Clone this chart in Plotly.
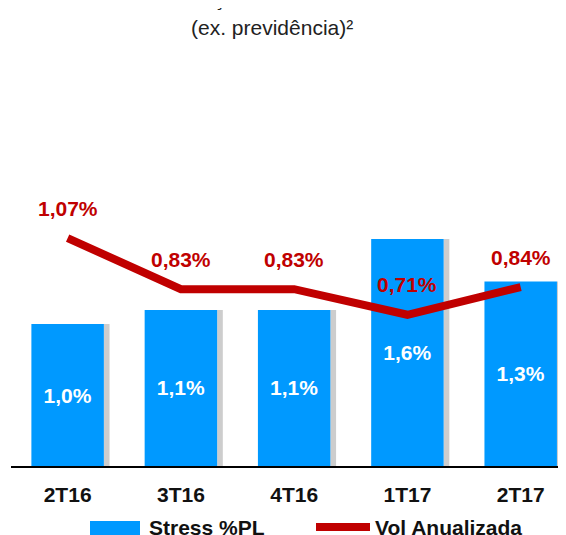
import plotly.graph_objects as go

# trimestres e valores
trimestres = ['2T16', '3T16', '4T16', '1T17', '2T17']
stress_pl = [1.0, 1.1, 1.1, 1.6, 1.3]
vol_anualizada = [1.07, 0.83, 0.83, 0.71, 0.84]

rotulos_stress = ['1,0%', '1,1%', '1,1%', '1,6%', '1,3%']
rotulos_vol = ['1,07%', '0,83%', '0,83%', '0,71%', '0,84%']

azul = '#0099FF'
vermelho = '#C00000'
fonte = 'Liberation Sans, Arial, sans-serif'


def py(s):
    # posicao vertical da tela -> coordenada paper
    return (466 - s) / 316


def px(s):
    return (s - 11) / 555


fig = go.Figure()

# sombra a direita das barras
fig.add_trace(go.Bar(x=trimestres, y=stress_pl, width=0.05, offset=0.32,
                     marker=dict(color='rgba(90,90,90,0.3)', line=dict(width=0)),
                     hoverinfo='skip', showlegend=False))

fig.add_trace(go.Bar(name='Stress %PL', x=trimestres, y=stress_pl, width=0.64, offset=-0.32,
                     marker=dict(color=azul, line=dict(width=0)),
                     text=rotulos_stress, textposition='inside', insidetextanchor='middle',
                     textangle=0, constraintext='none',
                     textfont=dict(color='white', size=21, family=fonte, weight='bold'),
                     showlegend=False))

fig.add_trace(go.Scatter(name='Vol Anualizada', x=trimestres, y=vol_anualizada, yaxis='y2',
                         mode='lines', line=dict(color=vermelho, width=8),
                         showlegend=False))

# rotulos da linha
for t, v, r in zip(trimestres, vol_anualizada, rotulos_vol):
    fig.add_annotation(x=t, y=v, xref='x', yref='y2', text=r, showarrow=False,
                       yshift=30, font=dict(color=vermelho, size=21, family=fonte, weight='bold'))

# titulo (primeira linha cortada no topo)
fig.add_annotation(x=px(272), y=py(12), xref='paper', yref='paper', yanchor='bottom',
                   text='Posição Consolidada', showarrow=False,
                   font=dict(color='#222222', size=21, family=fonte))
fig.add_annotation(x=px(272), y=py(28), xref='paper', yref='paper', yanchor='middle',
                   text='(ex. previdência)²', showarrow=False,
                   font=dict(color='#222222', size=21, family=fonte))

# legenda manual
fig.add_shape(type='rect', xref='paper', yref='paper',
              x0=px(90), x1=px(140), y0=py(536), y1=py(521),
              fillcolor=azul, line=dict(width=0))
fig.add_shape(type='line', xref='paper', yref='paper',
              x0=px(316), x1=px(370), y0=py(527), y1=py(527),
              line=dict(color=vermelho, width=8))
fig.add_annotation(x=px(147), y=py(527), xref='paper', yref='paper',
                   xanchor='left', yanchor='middle', text='Stress %PL', showarrow=False,
                   font=dict(color='#111111', size=21, family=fonte, weight='bold'))
fig.add_annotation(x=px(373), y=py(527), xref='paper', yref='paper',
                   xanchor='left', yanchor='middle', text='Vol Anualizada', showarrow=False,
                   font=dict(color='#111111', size=21, family=fonte, weight='bold'))

fig.update_layout(
    width=558, height=527,
    margin=dict(l=3, r=0, t=142, b=69),
    paper_bgcolor='white', plot_bgcolor='white',
    barmode='overlay',
    xaxis=dict(range=[-0.5, 4.4], showline=True, linecolor='black', linewidth=2,
               ticks='', ticklabelstandoff=9, showgrid=False, zeroline=False,
               tickfont=dict(color='#111111', size=21, family=fonte, weight='bold')),
    yaxis=dict(range=[0, 316 / 141.9], visible=False, showgrid=False, zeroline=False),
    yaxis2=dict(range=[0, 316 / 213], overlaying='y', visible=False, showgrid=False,
                zeroline=False),
)

fig.write_html('out.html')
